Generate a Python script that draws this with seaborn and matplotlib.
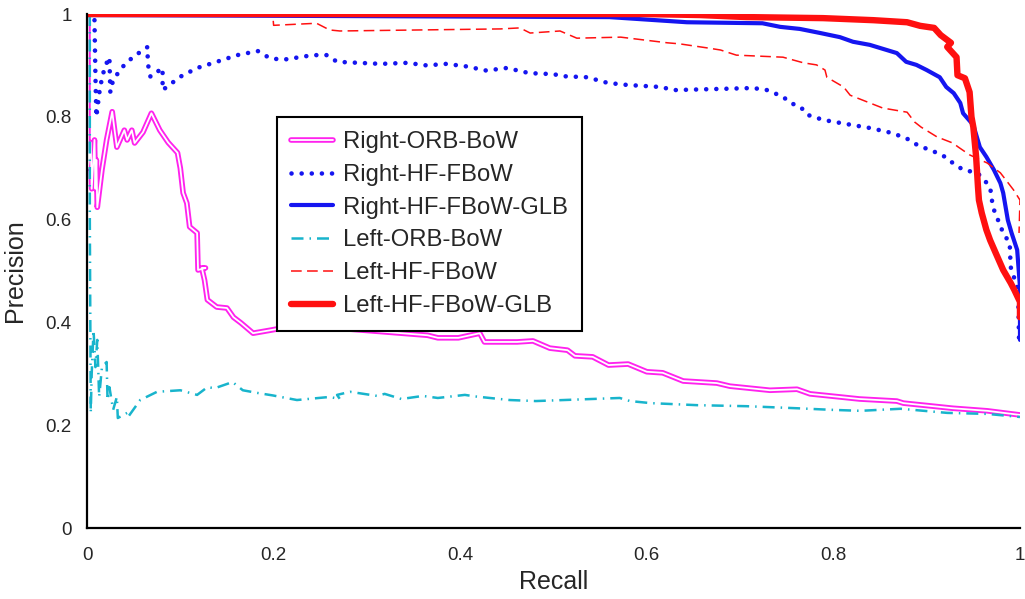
import numpy as np
import pandas as pd
import matplotlib
matplotlib.use("Agg")
import matplotlib.pyplot as plt
import matplotlib.patheffects as pe
import seaborn as sns

# --- data (recall, precision) ---
right_orb_x = [0.001, 0.001, 0.004, 0.005, 0.008, 0.009, 0.010, 0.011, 0.016, 0.021, 0.027, 0.030,
               0.032, 0.040, 0.043, 0.048, 0.051, 0.060, 0.069, 0.078, 0.087, 0.097, 0.100, 0.103,
               0.107, 0.110, 0.118, 0.119, 0.127, 0.123, 0.126, 0.129, 0.139, 0.150, 0.157, 0.165,
               0.178, 0.197, 0.215, 0.246, 0.365, 0.376, 0.398, 0.421, 0.426, 0.461, 0.478, 0.496,
               0.515, 0.523, 0.542, 0.559, 0.580, 0.600, 0.617, 0.639, 0.675, 0.689, 0.732, 0.761,
               0.775, 0.807, 0.828, 0.868, 0.875, 0.907, 0.928, 0.965, 1.0]
right_orb_y = [1.0, 0.70, 0.75, 0.66, 0.755, 0.66, 0.716, 0.624, 0.697, 0.755, 0.81, 0.768,
               0.741, 0.774, 0.755, 0.774, 0.749, 0.77, 0.807, 0.774, 0.75, 0.73, 0.70, 0.652,
               0.632, 0.586, 0.574, 0.502, 0.506, 0.506, 0.482, 0.444, 0.430, 0.428, 0.410, 0.399,
               0.379, 0.385, 0.391, 0.392, 0.375, 0.370, 0.370, 0.379, 0.362, 0.362, 0.364, 0.350,
               0.346, 0.335, 0.333, 0.317, 0.319, 0.304, 0.302, 0.286, 0.282, 0.276, 0.268, 0.270,
               0.261, 0.255, 0.251, 0.247, 0.243, 0.237, 0.233, 0.228, 0.220]

right_hf_x = [0.008, 0.009, 0.010, 0.014, 0.019, 0.024, 0.025, 0.028, 0.038, 0.049,
              0.065, 0.065, 0.068, 0.081, 0.081, 0.100, 0.118, 0.139, 0.161, 0.183, 0.196, 0.210,
              0.242, 0.257, 0.268, 0.315, 0.343, 0.364, 0.385, 0.407, 0.428, 0.450, 0.474, 0.500,
              0.510, 0.536, 0.558, 0.579, 0.615, 0.629, 0.714, 0.729, 0.746, 0.754, 0.765, 0.772,
              0.789, 0.814, 0.840, 0.864, 0.882, 0.890, 0.911, 0.922, 0.928, 0.939, 0.954, 0.960,
              0.968, 0.971, 0.982, 0.989, 0.990, 0.998, 0.999]
right_hf_y = [0.988, 0.88, 0.80, 0.858, 0.897, 0.916, 0.848, 0.872, 0.897, 0.916,
              0.936, 0.905, 0.878, 0.895, 0.852, 0.878, 0.895, 0.907, 0.920, 0.928, 0.914, 0.911,
              0.920, 0.920, 0.907, 0.903, 0.905, 0.900, 0.903, 0.898, 0.890, 0.895, 0.885, 0.883,
              0.879, 0.877, 0.866, 0.862, 0.858, 0.852, 0.856, 0.852, 0.839, 0.827, 0.819, 0.804,
              0.794, 0.786, 0.778, 0.768, 0.755, 0.745, 0.730, 0.720, 0.710, 0.697, 0.691, 0.681,
              0.663, 0.624, 0.574, 0.554, 0.508, 0.463, 0.366]

right_glb_x = [0.0, 0.56, 0.643, 0.724, 0.743, 0.764, 0.786, 0.807, 0.821, 0.839, 0.868,
               0.878, 0.889, 0.900, 0.914, 0.921, 0.929, 0.936, 0.939, 0.950, 0.957, 0.964, 0.972,
               0.979, 0.982, 0.987, 0.991, 0.997, 1.0, 1.0]
right_glb_y = [0.998, 0.994, 0.984, 0.982, 0.975, 0.971, 0.963, 0.955, 0.946, 0.940, 0.924,
               0.907, 0.901, 0.891, 0.877, 0.858, 0.846, 0.827, 0.807, 0.784, 0.741, 0.722, 0.697,
               0.671, 0.652, 0.599, 0.574, 0.541, 0.469, 0.366]

left_orb_x = [0.003, 0.003, 0.004, 0.005, 0.007, 0.009, 0.011, 0.013, 0.016, 0.021, 0.022, 0.024,
              0.028, 0.032, 0.033, 0.043, 0.044, 0.057, 0.075, 0.100, 0.118, 0.129, 0.137, 0.156,
              0.167, 0.182, 0.199, 0.225, 0.260, 0.271, 0.268, 0.282, 0.311, 0.319, 0.337, 0.360,
              0.376, 0.405, 0.416, 0.453, 0.481, 0.571, 0.582, 0.604, 0.654, 0.707, 0.761, 0.797,
              0.829, 0.872, 0.922, 0.965, 1.0]
left_orb_y = [1.0, 0.60, 0.224, 0.30, 0.385, 0.313, 0.366, 0.255, 0.313, 0.323, 0.249, 0.274,
              0.230, 0.255, 0.214, 0.224, 0.216, 0.249, 0.265, 0.268, 0.259, 0.274, 0.272, 0.284,
              0.268, 0.263, 0.258, 0.249, 0.255, 0.251, 0.259, 0.265, 0.257, 0.261, 0.251, 0.257,
              0.253, 0.259, 0.256, 0.249, 0.247, 0.253, 0.247, 0.243, 0.239, 0.237, 0.233, 0.230,
              0.228, 0.232, 0.224, 0.222, 0.216]

left_hf_x = [0.0, 0.199, 0.200, 0.246, 0.260, 0.271, 0.443, 0.464, 0.475, 0.507, 0.525, 0.572,
             0.622, 0.635, 0.665, 0.679, 0.696, 0.746, 0.768, 0.782, 0.791, 0.793, 0.811, 0.818,
             0.839, 0.853, 0.879, 0.887, 0.894, 0.911, 0.928, 0.934, 0.946, 0.965, 0.979, 0.993,
             1.0, 0.999]
left_hf_y = [1.0, 1.0, 0.978, 0.982, 0.969, 0.967, 0.971, 0.973, 0.963, 0.967, 0.953, 0.955,
             0.944, 0.942, 0.934, 0.930, 0.920, 0.916, 0.905, 0.901, 0.891, 0.877, 0.858, 0.842,
             0.827, 0.817, 0.809, 0.790, 0.780, 0.761, 0.749, 0.741, 0.726, 0.710, 0.691, 0.658,
             0.638, 0.574]

left_glb_x = [0.0, 0.596, 0.657, 0.707, 0.789, 0.843, 0.879, 0.893, 0.908, 0.915, 0.926,
              0.922, 0.932, 0.933, 0.941, 0.946, 0.948, 0.950, 0.953, 0.955, 0.956, 0.959, 0.964,
              0.968, 0.974, 0.982, 0.990, 0.994, 1.0, 1.0]
left_glb_y = [1.0, 1.0, 0.998, 0.994, 0.992, 0.988, 0.984, 0.977, 0.973, 0.959, 0.944,
              0.936, 0.916, 0.881, 0.875, 0.848, 0.800, 0.780, 0.722, 0.663, 0.638, 0.613, 0.580,
              0.560, 0.535, 0.502, 0.477, 0.463, 0.44, 0.41]

series = [
    ("Right-ORB-BoW", right_orb_x, right_orb_y),
    ("Right-HF-FBoW", right_hf_x, right_hf_y),
    ("Right-HF-FBoW-GLB", right_glb_x, right_glb_y),
    ("Left-ORB-BoW", left_orb_x, left_orb_y),
    ("Left-HF-FBoW", left_hf_x, left_hf_y),
    ("Left-HF-FBoW-GLB", left_glb_x, left_glb_y),
]

styles = {
    "Right-ORB-BoW": dict(color="white", linewidth=1.3,
                          path_effects=[pe.Stroke(linewidth=4.0, foreground="#ff22ee"), pe.Normal()]),
    "Right-HF-FBoW": dict(color="#1515f0", linewidth=3.3, linestyle=(0, (0.01, 2.2)),
                          dash_capstyle="round"),
    "Right-HF-FBoW-GLB": dict(color="#1515f0", linewidth=3.0),
    "Left-ORB-BoW": dict(color="#18b4cc", linewidth=1.8, linestyle=(0, (4.8, 2.4, 0.6, 2.4))),
    "Left-HF-FBoW": dict(color="#ff1010", linewidth=1.1, linestyle=(0, (7, 3.5))),
    "Left-HF-FBoW-GLB": dict(color="#ff1010", linewidth=4.6),
}

sns.set_style("white")
plt.rcParams["font.family"] = ["Liberation Sans", "DejaVu Sans"]

fig = plt.figure(figsize=(10.25, 5.99), dpi=100)
ax = fig.add_axes([0.0849, 0.1185, 0.9102, 0.8581])

for name, xs, ys in series:
    df = pd.DataFrame({"recall": xs, "precision": ys})
    sns.lineplot(data=df, x="recall", y="precision", sort=False, estimator=None,
                 ax=ax, label=name, **styles[name])

ax.set_xlim(0, 1)
ax.set_ylim(0, 1)
ticks = [0, 0.2, 0.4, 0.6, 0.8, 1]
tick_labels = ["0", "0.2", "0.4", "0.6", "0.8", "1"]
ax.set_xticks(ticks)
ax.set_xticklabels(tick_labels)
ax.set_yticks(ticks)
ax.set_yticklabels(tick_labels)
ax.tick_params(axis="both", length=0, labelsize=13.5)
ax.tick_params(axis="x", pad=14)
ax.tick_params(axis="y", pad=11)
ax.set_xlabel("Recall", fontsize=18, labelpad=4)
ax.set_ylabel("Precision", fontsize=18, labelpad=13)

for side in ["top", "right"]:
    ax.spines[side].set_visible(False)
for side in ["left", "bottom"]:
    ax.spines[side].set_color("black")
    ax.spines[side].set_linewidth(1.6)

leg = ax.legend(loc="upper left", bbox_to_anchor=(0.2036, 0.800), borderaxespad=0,
                fontsize=17.2, frameon=True, fancybox=False, edgecolor="black",
                handlelength=1.75, handletextpad=0.42, labelspacing=0.45,
                borderpad=0.6)
leg.get_frame().set_linewidth(1.5)
leg.get_frame().set_alpha(1)

fig.savefig("out.png", dpi=100)
